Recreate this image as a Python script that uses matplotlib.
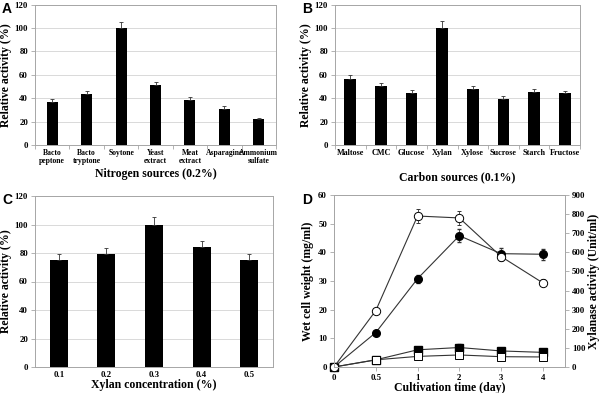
import matplotlib
matplotlib.use("Agg")
import matplotlib.pyplot as plt
import numpy as np

# ---- Data ----
nitrogen_labels = ["Bacto\npeptone", "Bacto\ntryptone", "Soytone", "Yeast\nextract",
                   "Meat\nextract", "Asparagine", "Ammonium\nsulfate"]
nitrogen_values = [37, 44, 100, 51, 38.5, 31, 22]
nitrogen_err = [2.5, 2.5, 5, 3, 2.5, 2, 1.5]

carbon_labels = ["Maltose", "CMC", "Glucose", "Xylan", "Xylose", "Sucrose", "Starch", "Fructose"]
carbon_values = [56.5, 50.5, 44.5, 100, 48, 39.5, 45, 44.5]
carbon_err = [3.5, 2.5, 2.5, 5.5, 2.5, 2.5, 2.5, 2]

xylan_labels = ["0.1", "0.2", "0.3", "0.4", "0.5"]
xylan_values = [75, 79, 100, 84, 75]
xylan_err = [4, 4.5, 5.5, 4.5, 4]

time_labels = ["0", "0.5", "1", "2", "3", "4"]
# Xylanase activity (Unit/ml) - right axis
xyl_open = [0, 295, 790, 780, 578, 440]
xyl_open_err = [0, 0, 38, 38, 25, 18]
xyl_filled = [0, 180, 462, 687, 593, 590]
xyl_filled_err = [0, 0, 22, 35, 28, 28]
# Wet cell weight (mg/ml) - left axis
wcw_filled = [0, 2.5, 6.0, 6.8, 5.6, 5.1]
wcw_filled_err = [0, 0, 1.0, 1.2, 0.8, 0.8]
wcw_open = [0, 2.5, 3.7, 4.2, 3.6, 3.5]
wcw_open_err = [0, 0, 0.6, 0.6, 0.5, 0.5]

serif = "Liberation Serif"
W, H = 601, 393
fig = plt.figure(figsize=(W / 100, H / 100), dpi=100)

def add_ax(l, r, t, b):
    return fig.add_axes([l / W, (H - b) / H, (r - l) / W, (b - t) / H])

spine_c = "#a6a6a6"
grid_c = "#d9d9d9"
tick_fs = 6.3
cat_fs = 5.9
label_fs = 8.5

def style_bar_ax(ax, labels, xfs):
    ax.set_ylim(0, 120)
    ax.set_yticks(range(0, 121, 20))
    ax.set_xlim(-0.5, len(labels) - 0.5)
    ax.set_xticks(range(len(labels)))
    ax.set_xticklabels(labels, fontsize=xfs, fontfamily=serif, fontweight="bold",
                       linespacing=1.0)
    ax.set_xticks(np.arange(-0.5, len(labels), 1.0), minor=True)
    ax.tick_params(axis="x", which="major", length=0, pad=3)
    ax.tick_params(axis="x", which="minor", length=3, color=spine_c, width=0.6)
    ax.tick_params(axis="y", length=3, color=spine_c, width=0.6, pad=2)
    for lab in ax.get_yticklabels():
        lab.set_fontsize(tick_fs)
        lab.set_fontfamily(serif)
        lab.set_fontweight("bold")
    ax.yaxis.grid(True, color=grid_c, linewidth=0.7)
    ax.set_axisbelow(True)
    for s in ax.spines.values():
        s.set_color(spine_c)
        s.set_linewidth(0.7)
    ax.set_ylabel("Relative activity (%)", fontsize=label_fs, fontfamily=serif,
                  fontweight="bold", labelpad=2)

def bars(ax, values, err, width):
    x = np.arange(len(values))
    ax.bar(x, values, width=width, color="black", zorder=2,
           yerr=[np.zeros(len(err)), err], error_kw=dict(ecolor="#333333", elinewidth=0.6,
                                                          capsize=1.5, capthick=0.6))

# Panel A
axA = add_ax(35, 276, 4.7, 145)
bars(axA, nitrogen_values, nitrogen_err, 0.32)
style_bar_ax(axA, nitrogen_labels, 5.5)
axA.set_xlabel("Nitrogen sources (0.2%)", fontsize=label_fs, fontfamily=serif,
               fontweight="bold", labelpad=2)

# Panel B
axB = add_ax(335, 580, 4.5, 145)
bars(axB, carbon_values, carbon_err, 0.38)
style_bar_ax(axB, carbon_labels, cat_fs)
axB.set_xlabel("Carbon sources (0.1%)", fontsize=label_fs, fontfamily=serif,
               fontweight="bold", labelpad=10)

# Panel C
axC = add_ax(35, 273, 196, 367)
bars(axC, xylan_values, xylan_err, 0.38)
style_bar_ax(axC, xylan_labels, tick_fs)
axC.tick_params(axis="x", which="minor", length=0)
axC.set_xlabel("Xylan concentration (%)", fontsize=label_fs, fontfamily=serif,
               fontweight="bold", labelpad=0)

# Panel D
axD = add_ax(334, 565, 195, 367)
axD2 = axD.twinx()
x = np.arange(len(time_labels))
lc = "#333333"
kw = dict(color=lc, lw=0.8, capsize=1.5, elinewidth=0.6, clip_on=False)
axD.errorbar(x, wcw_filled, yerr=[np.zeros(6), wcw_filled_err], marker="s", ms=5.5,
             mfc="black", mec="black", zorder=3, **kw)
axD.errorbar(x, wcw_open, yerr=[np.zeros(6), wcw_open_err], marker="s", ms=5.5,
             mfc="white", mec="black", mew=0.7, zorder=4, **kw)
axD2.errorbar(x, xyl_filled, yerr=xyl_filled_err, marker="o", ms=5.5,
              mfc="black", mec="black", **kw)
axD2.errorbar(x, xyl_open, yerr=xyl_open_err, marker="o", ms=6,
              mfc="white", mec="black", mew=0.7, **kw)
axD.set_xlim(0, 5.53)
axD.set_xticks(x)
axD.set_xticklabels(time_labels)
axD.set_ylim(0, 60)
axD.set_yticks(range(0, 61, 10))
axD2.set_ylim(0, 900)
axD2.set_yticks(range(0, 901, 100))
for a in (axD, axD2):
    a.tick_params(length=3, width=0.6, color=spine_c, pad=2)
    for lab in a.get_xticklabels() + a.get_yticklabels():
        lab.set_fontsize(tick_fs)
        lab.set_fontfamily(serif)
        lab.set_fontweight("bold")
    for s in a.spines.values():
        s.set_color(spine_c)
        s.set_linewidth(0.7)
axD.set_ylabel("Wet cell weight (mg/ml)", fontsize=label_fs, fontfamily=serif,
               fontweight="bold", labelpad=3)
axD2.set_ylabel("Xylanase activity (Unit/ml)", fontsize=label_fs, fontfamily=serif,
                fontweight="bold", labelpad=2)
axD.set_xlabel("Cultivation time (day)", fontsize=label_fs, fontfamily=serif,
               fontweight="bold", labelpad=0)

# Panel letters
for letter, px, py in [("A", 2, 2), ("B", 302, 2), ("C", 2, 193), ("D", 302, 193)]:
    fig.text(px / W, 1 - py / H, letter, fontsize=10, fontweight="bold",
             fontfamily="Liberation Sans", va="top", ha="left")

fig.savefig("out.png", dpi=100)
